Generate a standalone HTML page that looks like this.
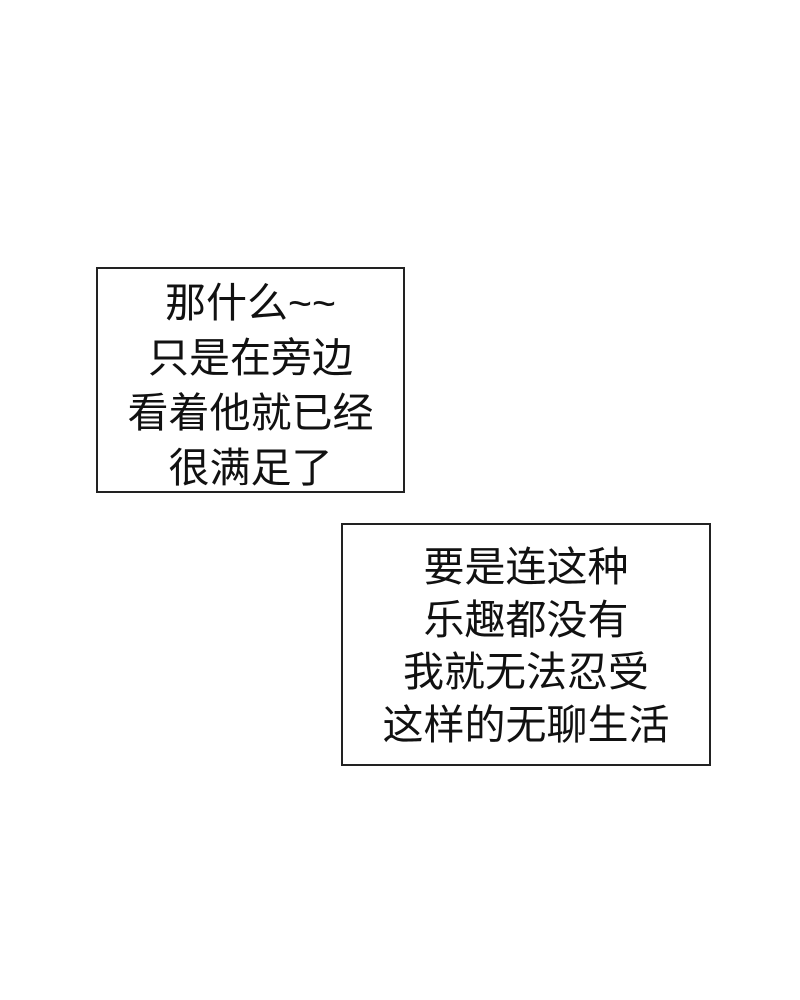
<!DOCTYPE html>
<html><head><meta charset="utf-8"><style>
html,body{margin:0;padding:0;background:#fff;width:800px;height:1000px;overflow:hidden;position:relative}
.b{position:absolute;border:2px solid #222;box-sizing:border-box;font-family:"Liberation Sans","Noto Sans CJK SC",sans-serif;color:#111;text-align:center}
.b div{position:absolute;left:0;right:0;white-space:nowrap}
</style></head><body>
<div class="b" style="left:96px;top:267px;width:309px;height:226px;font-size:41px;">
<div style="top:10px;line-height:48px">那什么~~</div>
<div style="top:65px;line-height:48px">只是在旁边</div>
<div style="top:120px;line-height:48px">看着他就已经</div>
<div style="top:175px;line-height:48px">很满足了</div>
</div>
<div class="b" style="left:341px;top:523px;width:370px;height:243px;font-size:41px;">
<div style="top:18px;line-height:48px">要是连这种</div>
<div style="top:71px;line-height:48px">乐趣都没有</div>
<div style="top:123px;line-height:48px">我就无法忍受</div>
<div style="top:176px;line-height:48px">这样的无聊生活</div>
</div>
</body></html>
